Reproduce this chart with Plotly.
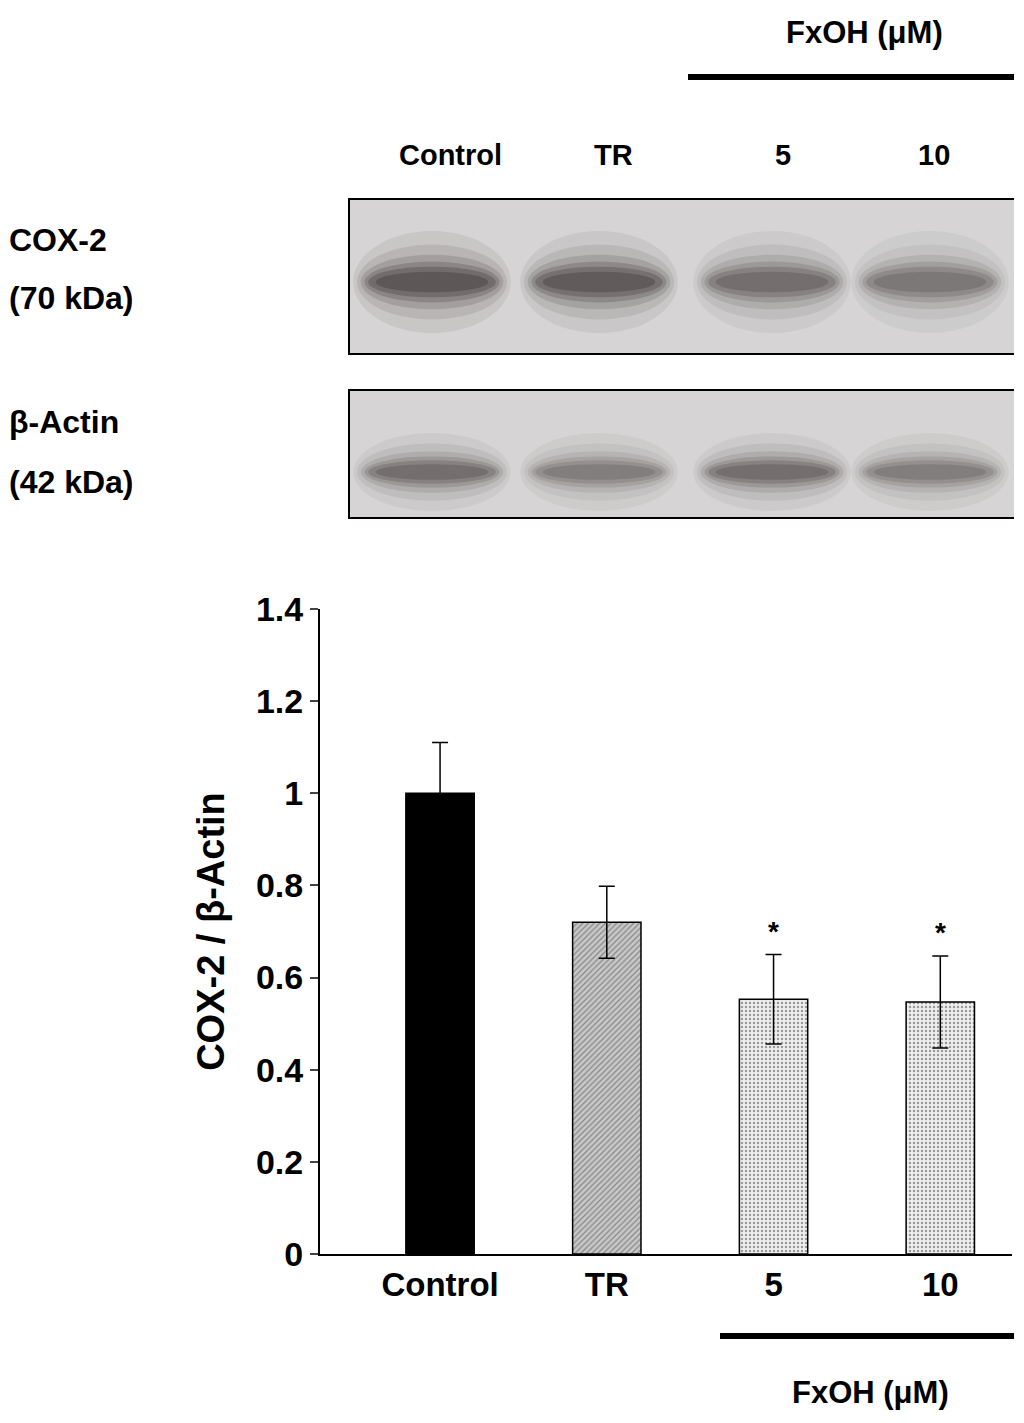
import plotly.graph_objects as go

categories = ["Control", "TR", "5", "10"]
values = [1.0, 0.72, 0.553, 0.547]
errors = [0.11, 0.078, 0.097, 0.10]
y_ticks = [0, 0.2, 0.4, 0.6, 0.8, 1.0, 1.2, 1.4]
y_tick_labels = ["0", "0.2", "0.4", "0.6", "0.8", "1", "1.2", "1.4"]
lane_labels = ["Control", "TR", "5", "10"]
cox_intensity = [0.95, 0.9, 0.7, 0.6]
actin_intensity = [0.7, 0.55, 0.7, 0.55]

W, H = 1024, 1423
FW, FH = 1006, 1405
def px(x): return (x - 6) / FW
def py(y): return 1 - (y - 6) / FH

FONT = "Liberation Sans"
fig = go.Figure()
xs = list(range(len(categories)))
colors = ["#000000", "#c8c8c8", "#efefef", "#efefef"]
shapes_pat = ["", "/", ".", "."]
fig.add_trace(go.Bar(
    x=xs, y=values, width=0.41,
    marker=dict(color=colors, line=dict(color="black", width=1.5),
                pattern=dict(shape=shapes_pat, fgcolor="#888888", size=4, solidity=0.3)),
    error_y=dict(type="data", array=errors, color="black", thickness=1.5, width=8),
))
for i, (v, e) in enumerate(zip(values, errors)):
    if i >= 2:
        fig.add_annotation(x=i, y=v + e + 0.05, text="<b>*</b>", showarrow=False,
                           font=dict(size=28, family=FONT, color="black"))

shapes = []
ann = []
def text(x, y, t, size=30, xanchor="center"):
    ann.append(dict(x=px(x), y=py(y), xref="paper", yref="paper", text="<b>%s</b>" % t,
                    showarrow=False, xanchor=xanchor, yanchor="middle",
                    font=dict(size=size, family=FONT, color="black")))

text(862, 30, "FxOH (μM)", 31)
shapes.append(dict(type="line", xref="paper", yref="paper", x0=px(686), x1=px(1016),
                   y0=py(75), y1=py(75), line=dict(color="black", width=6)))
for lx, t in zip([448, 611, 781, 932], lane_labels):
    text(lx, 153, t, 29)
text(5, 238, "COX-2", 32, "left")
text(5, 296, "(70 kDa)", 32, "left")
text(5, 420, "β-Actin", 32, "left")
text(5, 480, "(42 kDa)", 32, "left")

lane_c = [430, 597, 770, 928]
for (y0, y1, by, bh, inten) in [(197, 352, 280, 34, cox_intensity), (388, 516, 470, 26, actin_intensity)]:
    shapes.append(dict(type="rect", xref="paper", yref="paper", x0=px(347), x1=px(1018),
                       y0=py(y0), y1=py(y1), fillcolor="#d6d4d4", line=dict(color="black", width=2)))
    for lc, it in zip(lane_c, inten):
        for (wf, hf, op) in [(1.05, 3.0, 0.06), (1.0, 2.2, 0.08), (0.95, 1.6, 0.12),
                             (0.9, 1.2, 0.16), (0.85, 0.9, 0.2), (0.75, 0.6, 0.22)]:
            hw = 75 * wf
            hh = bh / 2 * hf
            shapes.append(dict(type="circle", xref="paper", yref="paper",
                               x0=px(lc - hw), x1=px(lc + hw), y0=py(by + hh), y1=py(by - hh),
                               fillcolor="#2a2020", opacity=op * it * 1.3, line=dict(width=0)))

shapes.append(dict(type="line", xref="paper", yref="paper", x0=px(718), x1=px(1012),
                   y0=py(1334), y1=py(1334), line=dict(color="black", width=6)))
text(868, 1390, "FxOH (μM)", 31)

fig.update_layout(
    width=FW, height=FH, margin=dict(l=0, r=0, t=0, b=0, autoexpand=False),
    paper_bgcolor="white", plot_bgcolor="white", showlegend=False,
    shapes=shapes, annotations=list(fig.layout.annotations) + ann,
    xaxis=dict(domain=[px(318), px(1010)], range=[-0.72, 3.43], tickvals=xs, automargin=False,
               ticktext=["<b>%s</b>" % c for c in categories], showline=True,
               linecolor="black", linewidth=2, ticks="", showgrid=False, zeroline=False,
               tickfont=dict(size=33, family=FONT, color="black")),
    yaxis=dict(domain=[py(1252), py(607)], range=[0, 1.4], tickvals=y_ticks, automargin=False,
               ticktext=["<b>%s</b>" % t for t in y_tick_labels], showline=True,
               linecolor="black", linewidth=2, ticks="outside", ticklen=8, tickwidth=2,
               showgrid=False, zeroline=False,
               tickfont=dict(size=34, family=FONT, color="black"),
               title=dict(text="<b>COX-2 / β-Actin</b>", font=dict(size=38, family=FONT, color="black"), standoff=20)),
)
fig.write_html("out.html")
